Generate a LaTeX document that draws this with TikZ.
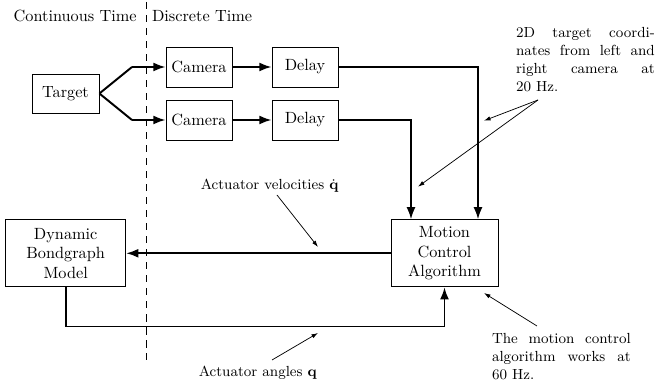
\documentclass[tikz,border=0pt]{standalone}
\usetikzlibrary{arrows.meta,calc}
\begin{document}
\begin{tikzpicture}[x=0.615pt,y=-0.615pt,
  block/.style={draw,line width=0.5pt,inner sep=0pt,align=center,
    minimum width=#1},
  block/.default=40.6pt,
  flow/.style={line width=1.2pt,-{Latex[length=7.5pt,width=5.5pt]}},
  plainflow/.style={line width=1.2pt},
  note/.style={line width=0.45pt,-{Latex[length=4pt,width=2.6pt]}},
  remark/.style={font=\small,text width=3cm,align=justify,inner sep=0pt,anchor=base west},
  tag/.style={inner sep=0pt},
  smalltag/.style={font=\small,inner sep=0pt,anchor=base west}]
\useasboundingbox (0,0) rectangle (656,385);

% time domain split
\coordinate (dtop) at (146,2);
\coordinate (dbot) at (146,360);
\draw[line width=0.6pt,dash pattern=on 4.5pt off 3.5pt] (dtop) -- (dbot);
\node[tag,anchor=base east] (ct) at (137,21.7) {Continuous Time};
\node[tag,anchor=base west] (dt) at (151.7,21.7) {Discrete Time};

% blocks
\node[block=41.2pt,minimum height=24pt] (target) at (65.5,93.5) {Target};
\node[block,minimum height=24.6pt] (cam1) at (199,67) {Camera};
\node[block,minimum height=24.6pt] (cam2) at (199,120) {Camera};
\node[block,minimum height=24.6pt] (del1) at (305,67) {Delay};
\node[block,minimum height=24.6pt] (del2) at (305,120) {Delay};
\node[block=65.8pt,minimum height=41.2pt] (mca) at (444.5,253.3)
  {Motion\\Control\\Algorithm};
\node[block=73.8pt,minimum height=41.2pt] (dbm) at (65.7,253.3)
  {Dynamic\\Bondgraph\\Model};

% camera feeds
\coordinate (k1) at (132,67);
\coordinate (k2) at (132,120);
\draw[plainflow] (target.east) -- (k1);
\draw[plainflow] (target.east) -- (k2);
\draw[flow] (k1) -- (cam1.west);
\draw[flow] (k2) -- (cam2.west);
\draw[flow] (cam1) -- (del1);
\draw[flow] (cam2) -- (del2);
\draw[flow] (del1.east) -| ($(mca.north)+(33.5,0)$);
\draw[flow] (del2.east) -| ($(mca.north)+(-33.5,0)$);

% control loop
\draw[flow] (mca.west) -- (dbm.east);
\draw[flow] (dbm.south) -- ++(0,39.3) -| (mca.south);

% annotations
\node[smalltag] (vel) at (200.5,190) {Actuator velocities $\dot{\mathbf{q}}$};
\coordinate (vel0) at (277,195);
\coordinate (vel1) at (318,247);
\draw[note] (vel0) -- (vel1);

\node[smalltag] (ang) at (198.5,377) {Actuator angles $\mathbf{q}$};
\coordinate (ang0) at (272,360);
\coordinate (ang1) at (318,333);
\draw[note] (ang0) -- (ang1);

\node[remark] (coords) at (515.7,37.5)
  {2D target coordinates from left and right camera at\linebreak 20 Hz.};
\coordinate (co0) at (538,100);
\coordinate (co1) at (484,120.7);
\coordinate (co2) at (418,186.7);
\draw[note] (co0) -- (co1);
\draw[note] (co0) -- (co2);

\node[remark] (rate) at (491.7,344)
  {The motion control algorithm works at 60 Hz.};
\coordinate (ra0) at (537,326);
\coordinate (ra1) at (484,293);
\draw[note] (ra0) -- (ra1);
\end{tikzpicture}
\end{document}
